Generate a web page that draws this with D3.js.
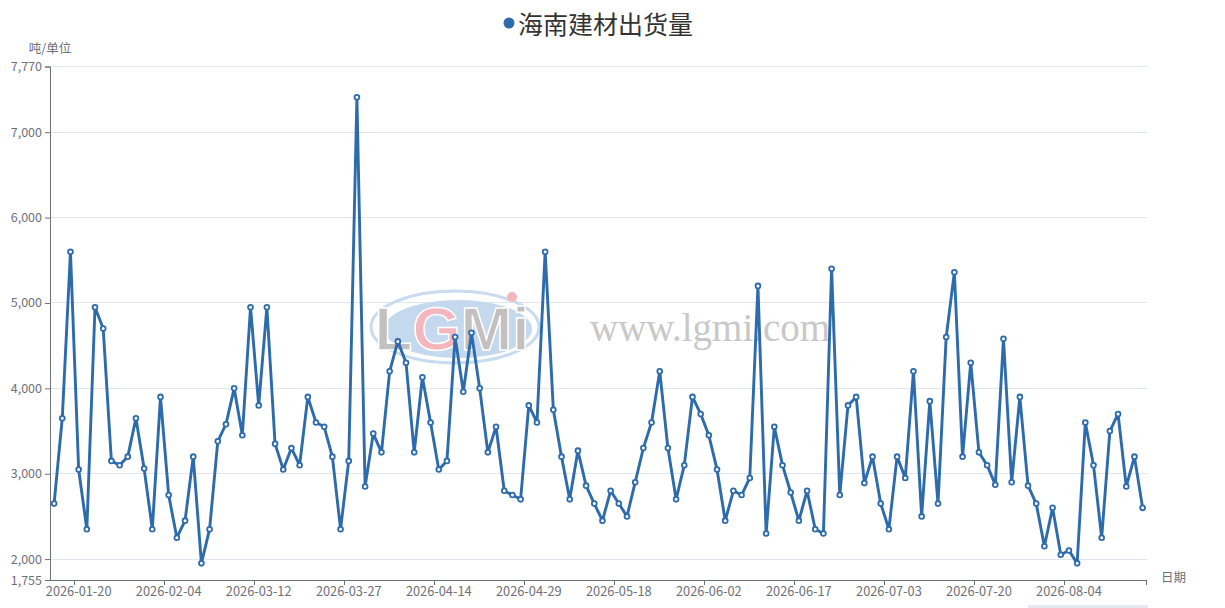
<!DOCTYPE html>
<html>
<head>
<meta charset="utf-8">
<script src="https://cdn.jsdelivr.net/npm/d3@7/dist/d3.min.js"></script>
<style>
  html, body { margin: 0; padding: 0; background: #ffffff; }
  svg { display: block; }
  text { font-family: "Noto Sans CJK SC", "Noto Sans", sans-serif; }
</style>
</head>
<body>
<svg id="chart" width="1225" height="608"></svg>
<script>
const seriesName = "海南建材出货量";
const yAxisName = "吨/单位";
const xAxisName = "日期";

const dates = [
  "2026-01-15","2026-01-16","2026-01-19","2026-01-20","2026-01-21","2026-01-22","2026-01-23","2026-01-26","2026-01-27","2026-01-28",
  "2026-01-29","2026-01-30","2026-02-02","2026-02-03","2026-02-04","2026-02-05","2026-02-06","2026-02-09","2026-02-10","2026-02-11",
  "2026-03-05","2026-03-06","2026-03-09","2026-03-10","2026-03-11","2026-03-12","2026-03-13","2026-03-16","2026-03-17","2026-03-18",
  "2026-03-19","2026-03-20","2026-03-23","2026-03-24","2026-03-25","2026-03-26","2026-03-27","2026-03-30","2026-03-31","2026-04-01",
  "2026-04-02","2026-04-03","2026-04-07","2026-04-08","2026-04-09","2026-04-10","2026-04-13","2026-04-14","2026-04-15","2026-04-16",
  "2026-04-17","2026-04-20","2026-04-21","2026-04-22","2026-04-23","2026-04-24","2026-04-27","2026-04-28","2026-04-29","2026-04-30",
  "2026-05-06","2026-05-07","2026-05-08","2026-05-09","2026-05-11","2026-05-12","2026-05-13","2026-05-14","2026-05-15","2026-05-18",
  "2026-05-19","2026-05-20","2026-05-21","2026-05-22","2026-05-25","2026-05-26","2026-05-27","2026-05-28","2026-05-29","2026-06-01",
  "2026-06-02","2026-06-03","2026-06-04","2026-06-05","2026-06-08","2026-06-09","2026-06-10","2026-06-11","2026-06-12","2026-06-15",
  "2026-06-16","2026-06-17","2026-06-18","2026-06-22","2026-06-23","2026-06-24","2026-06-25","2026-06-26","2026-06-29","2026-06-30",
  "2026-07-01","2026-07-02","2026-07-03","2026-07-06","2026-07-07","2026-07-08","2026-07-09","2026-07-10","2026-07-13","2026-07-14",
  "2026-07-15","2026-07-16","2026-07-17","2026-07-20","2026-07-21","2026-07-22","2026-07-23","2026-07-24","2026-07-27","2026-07-28",
  "2026-07-29","2026-07-30","2026-07-31","2026-08-03","2026-08-04","2026-08-05","2026-08-06","2026-08-07","2026-08-10","2026-08-11",
  "2026-08-12","2026-08-13","2026-08-14","2026-08-17"
];

const values = [
  2650, 3650, 5600, 3050, 2350, 4950, 4700, 3150, 3100, 3200,
  3650, 3060, 2350, 3900, 2750, 2250, 2450, 3200, 1950, 2350,
  3380, 3580, 4000, 3450, 4950, 3800, 4950, 3350, 3050, 3300,
  3100, 3900, 3600, 3550, 3200, 2350, 3150, 7410, 2850, 3470,
  3250, 4200, 4550, 4300, 3250, 4130, 3600, 3050, 3150, 4600,
  3960, 4650, 4000, 3250, 3550, 2800, 2750, 2700, 3800, 3600,
  5600, 3750, 3200, 2700, 3270, 2860, 2650, 2450, 2800, 2650,
  2500, 2900, 3300, 3600, 4200, 3300, 2700, 3100, 3900, 3700,
  3450, 3050, 2450, 2800, 2750, 2950, 5200, 2300, 3550, 3100,
  2780, 2450, 2800, 2350, 2300, 5400, 2750, 3800, 3900, 2890,
  3200, 2650, 2350, 3200, 2950, 4200, 2500, 3850, 2650, 4600,
  5360, 3200, 4300, 3250, 3100, 2870, 4580, 2900, 3900, 2860,
  2650, 2150, 2600, 2050, 2100, 1950, 3600, 3100, 2250, 3500,
  3700, 2850, 3200, 2600
];

const xTickLabels = ["2026-01-20","2026-02-04","2026-03-12","2026-03-27","2026-04-14","2026-04-29",
  "2026-05-18","2026-06-02","2026-06-17","2026-07-03","2026-07-20","2026-08-04"];
const yTickValues = [1755, 2000, 3000, 4000, 5000, 6000, 7000, 7770];
const yDomain = [1755, 7770];

(function () {
const lineColor = "#2d6bad";
const axisColor = "#6E7079";
const gridColor = "#E0E6F1";

const svg = d3.select("#chart");
const plotL = 50, plotR = 1146.7, plotT = 66.5, plotB = 580;

const x = d3.scaleBand().domain(dates).range([plotL, plotR]).paddingInner(0).paddingOuter(0);
const y = d3.scaleLinear().domain(yDomain).range([plotB, plotT]);
const cx = d => x(d) + x.bandwidth() / 2;

// grid lines
svg.append("g").selectAll("line")
  .data(yTickValues.filter(v => v !== yDomain[0]))
  .join("line")
  .attr("x1", plotL).attr("x2", plotR)
  .attr("y1", d => y(d)).attr("y2", d => y(d))
  .attr("stroke", gridColor).attr("stroke-width", 1)
  .attr("shape-rendering", "crispEdges");

// watermark
const wm = svg.append("g").attr("class", "watermark");
wm.append("ellipse").attr("cx", 455).attr("cy", 327).attr("rx", 84).attr("ry", 36)
  .attr("fill", "none").attr("stroke", "#c9dbef").attr("stroke-width", 3);
wm.append("ellipse").attr("cx", 458).attr("cy", 329).attr("rx", 74).attr("ry", 29)
  .attr("fill", "#c4d8ee");
const wmText = wm.append("text").attr("x", 452).attr("y", 350)
  .attr("text-anchor", "middle")
  .style("font-family", "'Liberation Sans', Arial, sans-serif")
  .style("font-weight", "bold").style("font-size", "62px")
  .attr("stroke", "#ffffff").attr("stroke-width", 1.5);
wmText.append("tspan").text("L").attr("fill", "#c3c0bf");
wmText.append("tspan").text("G").attr("fill", "#f4b5bd");
wmText.append("tspan").text("M").attr("fill", "#c3c0bf");
wmText.append("tspan").text("i").attr("fill", "#c3c0bf");
wm.append("circle").attr("cx", 512).attr("cy", 297).attr("r", 5).attr("fill", "#f4b5bd");
wm.append("text").attr("x", 590).attr("y", 341)
  .style("font-family", "'Liberation Serif', 'DejaVu Serif', serif")
  .style("font-size", "39px").attr("fill", "#c8c8c8")
  .text("www.lgmi.com");

// y axis
const yAxis = d3.axisLeft(y).tickValues(yTickValues).tickFormat(d3.format(",")).tickSize(5).tickPadding(3);
const gy = svg.append("g").attr("transform", `translate(${plotL},0)`).call(yAxis);
gy.select(".domain").attr("stroke", axisColor);
gy.selectAll(".tick line").attr("stroke", axisColor);
gy.selectAll(".tick text").attr("fill", axisColor).style("font-size", "12.5px");

// x axis
const xAxis = d3.axisBottom(x).tickValues(xTickLabels).tickSize(0).tickPadding(7);
const gx = svg.append("g").attr("transform", `translate(0,${plotB})`).call(xAxis);
gx.select(".domain").attr("stroke", axisColor);
gx.selectAll(".tick text").attr("fill", axisColor).style("font-size", "12.8px");
const tickBounds = xTickLabels.map(d => x(d)).concat([plotR]);
gx.append("g").selectAll("line").data(tickBounds).join("line")
  .attr("x1", d => d).attr("x2", d => d).attr("y1", 0).attr("y2", 5)
  .attr("stroke", axisColor).attr("shape-rendering", "crispEdges");

// axis names
svg.append("text").attr("x", 50).attr("y", 53).attr("text-anchor", "middle")
  .attr("fill", axisColor).style("font-size", "12.5px").text(yAxisName);
svg.append("text").attr("x", 1161).attr("y", 582)
  .attr("fill", axisColor).style("font-size", "12.5px").text(xAxisName);

// line
const line = d3.line().x((d, i) => cx(dates[i])).y(d => y(d));
svg.append("path").datum(values)
  .attr("d", line).attr("fill", "none")
  .attr("stroke", lineColor).attr("stroke-width", 2.9)
  .attr("stroke-linejoin", "round");

svg.append("g").selectAll("circle").data(values).join("circle")
  .attr("cx", (d, i) => cx(dates[i])).attr("cy", d => y(d))
  .attr("r", 2.4).attr("fill", "#ffffff")
  .attr("stroke", lineColor).attr("stroke-width", 1.8);

// legend / title
svg.append("circle").attr("cx", 509).attr("cy", 23).attr("r", 5.5).attr("fill", lineColor);
svg.append("text").attr("x", 518).attr("y", 23).attr("dominant-baseline", "central")
  .attr("fill", "#333333").style("font-size", "25px").text(seriesName);

svg.append("rect").attr("x", 1028).attr("y", 605).attr("width", 120).attr("height", 3)
  .attr("fill", "#e3e8f2");
})();
</script>
</body>
</html>
